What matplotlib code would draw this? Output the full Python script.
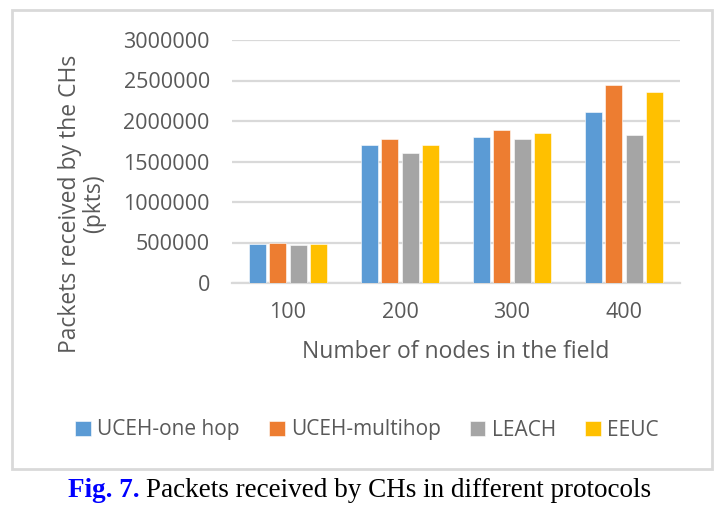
import numpy as np
import matplotlib
matplotlib.use("Agg")
import matplotlib.pyplot as plt
from matplotlib.patches import Rectangle

# data
nodes = ["100", "200", "300", "400"]
protocols = ["UCEH-one hop", "UCEH-multihop", "LEACH", "EEUC"]
uceh_one_hop = [483000, 1698000, 1800000, 2107000]
uceh_multihop = [499000, 1772000, 1894000, 2447000]
leach = [466000, 1600000, 1772000, 1825000]
eeuc = [483000, 1698000, 1849000, 2357000]
yticks = [0, 500000, 1000000, 1500000, 2000000, 2500000, 3000000]

colors = ["#5B9BD5", "#ED7D31", "#A5A5A5", "#FFC000"]
TXT = "#595959"
GRID = "#D9D9D9"
FONT = "Open Sans"

W, H = 727, 513
fig = plt.figure(figsize=(W / 100, H / 100), dpi=100)
ax = fig.add_axes([232 / W, 1 - 283 / H, 448 / W, 243 / H])

x = np.arange(len(nodes))
step = 0.182
series = [uceh_one_hop, uceh_multihop, leach, eeuc]
for i, (vals, name) in enumerate(zip(series, protocols)):
    ax.bar(x + (i - 1.5) * step, vals, width=0.15, color=colors[i],
           label=name, zorder=3, edgecolor="white", linewidth=0.4)

ax.set_xlim(-0.5, 3.5)
ax.set_ylim(0, 3000000)
ax.set_yticks(yticks)
ax.set_yticklabels([str(v) for v in yticks])
ax.set_xticks(x)
ax.set_xticklabels(nodes)
ax.yaxis.grid(True, color=GRID, linewidth=1.6, zorder=0)
ax.set_axisbelow(True)
for s in ["top", "right", "left"]:
    ax.spines[s].set_visible(False)
ax.spines["bottom"].set_color(GRID)
ax.spines["bottom"].set_linewidth(1.6)
ax.tick_params(axis="both", length=0, labelsize=15.5, labelcolor=TXT)
ax.tick_params(axis="y", pad=16)
ax.tick_params(axis="x", pad=14)
for lbl in ax.get_xticklabels() + ax.get_yticklabels():
    lbl.set_fontfamily(FONT)

ax.set_xlabel("Number of nodes in the field", fontsize=16.5, color=TXT,
              family=FONT, labelpad=12)
fig.text(82 / W, 1 - 204 / H, "Packets received by the CHs\n(pkts)",
         rotation=90, ha="center", va="center", multialignment="center",
         fontsize=16.5, color=TXT, family=FONT, linespacing=1.0)

handles, labels = ax.get_legend_handles_labels()
fig.legend(handles, labels, loc="center", bbox_to_anchor=(367 / W, 1 - 430 / H),
           ncol=4, frameon=False, prop={"family": FONT, "size": 15},
           labelcolor=TXT, handlelength=0.75, handleheight=0.75,
           handletextpad=0.3, columnspacing=1.4)

# chart area border
fig.patches.append(Rectangle((12 / W, 1 - 469 / H), 700 / W, 459 / H,
                             transform=fig.transFigure, fill=False,
                             edgecolor=GRID, linewidth=2))

# caption
y_cap = 1 - 497 / H
t1 = fig.text(68 / W, y_cap, "Fig. 7.", color="#0000FF", fontweight="bold",
              family="Liberation Serif", fontsize=19.5, va="baseline")
fig.canvas.draw()
bb = t1.get_window_extent()
fig.text((bb.x1 + 6) / W, y_cap, "Packets received by CHs in different protocols",
         color="black", family="Liberation Serif", fontsize=19.5, va="baseline")

fig.savefig("out.png", dpi=100)
